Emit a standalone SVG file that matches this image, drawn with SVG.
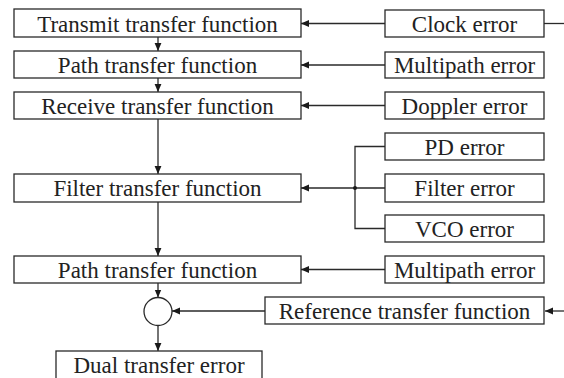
<svg xmlns="http://www.w3.org/2000/svg" width="564" height="378" viewBox="0 0 564 378">
  <style>
    .box { fill: #ffffff; stroke: #2a2a2a; stroke-width: 1.3; }
    .lbl { font-family: 'Liberation Serif', 'Times New Roman', serif; font-size: 23px; fill: #222222; text-anchor: middle; }
    .wire { fill: none; stroke: #2a2a2a; stroke-width: 1.3; }
  </style>
  <defs>
    <marker id="arrow" viewBox="0 0 8 8" refX="8" refY="4" markerWidth="8" markerHeight="8" markerUnits="userSpaceOnUse" orient="auto">
      <path d="M0,0.6 L8,4 L0,7.4 Z" fill="#1a1a1a"/>
    </marker>
  </defs>
  <rect width="564" height="378" fill="#ffffff"/>

  <!-- connectors -->
  <g id="connectors">
    <!-- main chain -->
    <line class="wire" x1="158" y1="37" x2="158" y2="51" marker-end="url(#arrow)"/>
    <line class="wire" x1="158" y1="78" x2="158" y2="92" marker-end="url(#arrow)"/>
    <line class="wire" x1="158" y1="119" x2="158" y2="174" marker-end="url(#arrow)"/>
    <line class="wire" x1="158" y1="202" x2="158" y2="256" marker-end="url(#arrow)"/>
    <line class="wire" x1="158" y1="283" x2="158" y2="297.5" marker-end="url(#arrow)"/>
    <line class="wire" x1="158" y1="325.5" x2="158" y2="351" marker-end="url(#arrow)"/>
    <!-- error inputs -->
    <line class="wire" x1="564" y1="23.5" x2="544" y2="23.5"/>
    <line class="wire" x1="385" y1="23.5" x2="301" y2="23.5" marker-end="url(#arrow)"/>
    <line class="wire" x1="385" y1="65" x2="301" y2="65" marker-end="url(#arrow)"/>
    <line class="wire" x1="385" y1="105.5" x2="301" y2="105.5" marker-end="url(#arrow)"/>
    <path class="wire" d="M385,146.5 H355 V228.5 H385 M385,188 H355"/>
    <line class="wire" x1="355" y1="188" x2="301" y2="188" marker-end="url(#arrow)"/>
    <circle cx="355" cy="188" r="2" fill="#1a1a1a"/>
    <line class="wire" x1="385" y1="269.5" x2="301" y2="269.5" marker-end="url(#arrow)"/>
    <line class="wire" x1="265" y1="311" x2="172" y2="311" marker-end="url(#arrow)"/>
    <line class="wire" x1="564" y1="311" x2="545" y2="311" marker-end="url(#arrow)"/>
  </g>

  <g id="transmit">
    <rect class="box" x="14" y="9" width="287" height="28"/>
    <text class="lbl" x="157.5" y="32">Transmit transfer function</text>
  </g>
  <g id="path1">
    <rect class="box" x="14" y="51" width="287" height="27"/>
    <text class="lbl" x="157.5" y="73">Path transfer function</text>
  </g>
  <g id="receive">
    <rect class="box" x="14" y="92" width="287" height="27"/>
    <text class="lbl" x="157.5" y="114">Receive transfer function</text>
  </g>
  <g id="filter">
    <rect class="box" x="14" y="174" width="287" height="28"/>
    <text class="lbl" x="157.5" y="196">Filter transfer function</text>
  </g>
  <g id="path2">
    <rect class="box" x="14" y="256" width="287" height="27"/>
    <text class="lbl" x="157.5" y="278">Path transfer function</text>
  </g>
  <g id="sum">
    <circle cx="158" cy="311.5" r="14" fill="#ffffff" stroke="#2a2a2a" stroke-width="1.3"/>
  </g>
  <g id="dual">
    <rect class="box" x="56" y="351" width="206" height="40"/>
    <text class="lbl" x="159" y="373">Dual transfer error</text>
  </g>

  <g id="clock">
    <rect class="box" x="385" y="10" width="159" height="27"/>
    <text class="lbl" x="464.5" y="32">Clock error</text>
  </g>
  <g id="multipath1">
    <rect class="box" x="385" y="52" width="159" height="26"/>
    <text class="lbl" x="464.5" y="73">Multipath error</text>
  </g>
  <g id="doppler">
    <rect class="box" x="385" y="92" width="159" height="27"/>
    <text class="lbl" x="464.5" y="114">Doppler error</text>
  </g>
  <g id="pd">
    <rect class="box" x="385" y="133" width="159" height="27"/>
    <text class="lbl" x="464.5" y="155">PD error</text>
  </g>
  <g id="filtererr">
    <rect class="box" x="385" y="174" width="159" height="28"/>
    <text class="lbl" x="464.5" y="196">Filter error</text>
  </g>
  <g id="vco">
    <rect class="box" x="385" y="215" width="159" height="27"/>
    <text class="lbl" x="464.5" y="237">VCO error</text>
  </g>
  <g id="multipath2">
    <rect class="box" x="385" y="256" width="159" height="27"/>
    <text class="lbl" x="464.5" y="278">Multipath error</text>
  </g>
  <g id="reference">
    <rect class="box" x="265" y="297" width="279" height="27"/>
    <text class="lbl" x="404.5" y="319">Reference transfer function</text>
  </g>
</svg>
